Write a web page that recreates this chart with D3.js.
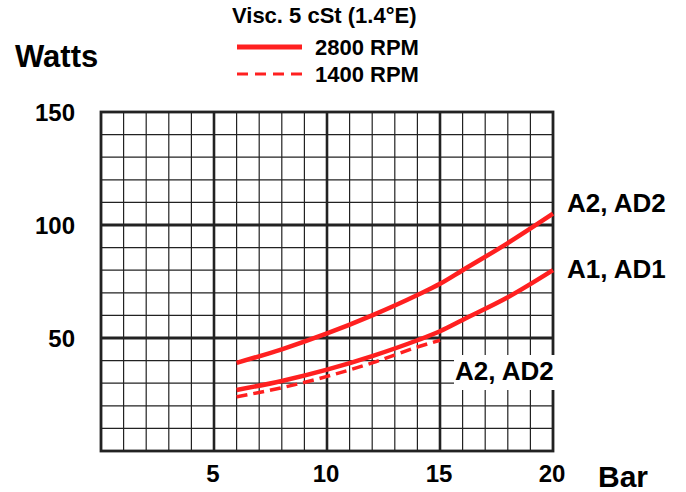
<!DOCTYPE html>
<html>
<head>
<meta charset="utf-8">
<script src="https://cdn.jsdelivr.net/npm/d3@7"></script>
<style>
  body { margin: 0; background: #fff; }
  text { font-family: "Liberation Sans", Arial, sans-serif; font-weight: bold; fill: #000; }
</style>
</head>
<body>
<svg id="chart" width="686" height="492"></svg>
<script>
// data (bar -> watts)
const pressure2800A2 = [6, 8, 10, 12, 14, 15, 16, 18, 20];
const watts2800A2 = [39, 45, 52, 60, 69, 74, 80, 92, 105];
const pressure2800A1 = [6, 8, 10, 12, 14, 15, 16, 18, 20];
const watts2800A1 = [27, 31, 36, 42, 49, 53, 58, 68, 80];
const pressure1400A2 = [6, 8, 10, 12, 14, 15];
const watts1400A2 = [24, 28, 33, 39, 46, 49];
const xTicks = [5, 10, 15, 20];
const yTicks = [50, 100, 150];

const svg = d3.select("#chart");
const red = "#ff2020";

const x = d3.scaleLinear().domain([0, 20]).range([101, 553]);
const y = d3.scaleLinear().domain([0, 150]).range([451, 112]);

const grid = svg.append("g");

// minor grid, every bar and every 10 W
grid.selectAll(".vminor")
  .data(d3.range(1, 20))
  .enter()
  .append("line")
  .attr("x1", (d) => x(d)).attr("x2", (d) => x(d))
  .attr("y1", y(0)).attr("y2", y(150))
  .attr("stroke", "#222")
  .attr("stroke-width", (d) => (d % 5 === 0 ? 2.6 : 1.2));

grid.selectAll(".hminor")
  .data(d3.range(10, 150, 10))
  .enter()
  .append("line")
  .attr("x1", x(0)).attr("x2", x(20))
  .attr("y1", (d) => y(d)).attr("y2", (d) => y(d))
  .attr("stroke", "#222")
  .attr("stroke-width", (d) => (d % 50 === 0 ? 2.8 : 1.2));

grid.append("rect")
  .attr("x", x(0)).attr("y", y(150))
  .attr("width", x(20) - x(0)).attr("height", y(0) - y(150))
  .attr("fill", "none")
  .attr("stroke", "#222")
  .attr("stroke-width", 2.8);

// curves
const line = d3.line()
  .x((d) => x(d[0]))
  .y((d) => y(d[1]))
  .curve(d3.curveMonotoneX);

svg.append("path")
  .datum(d3.zip(pressure2800A2, watts2800A2))
  .attr("d", line)
  .attr("fill", "none").attr("stroke", red).attr("stroke-width", 4.5);

svg.append("path")
  .datum(d3.zip(pressure2800A1, watts2800A1))
  .attr("d", line)
  .attr("fill", "none").attr("stroke", red).attr("stroke-width", 4.5);

svg.append("path")
  .datum(d3.zip(pressure1400A2, watts1400A2))
  .attr("d", line)
  .attr("fill", "none").attr("stroke", red).attr("stroke-width", 3.5)
  .attr("stroke-dasharray", "11,6");

// label with white box inside the plot
svg.append("rect")
  .attr("x", 454).attr("y", 355)
  .attr("width", 101).attr("height", 35)
  .attr("fill", "#fff");
svg.append("text")
  .attr("x", 455).attr("y", 380)
  .attr("font-size", 26)
  .text("A2, AD2");

// right labels
svg.append("text").attr("x", 567).attr("y", 212).attr("font-size", 26).text("A2, AD2");
svg.append("text").attr("x", 567).attr("y", 278).attr("font-size", 26).text("A1, AD1");

// axis tick labels
svg.selectAll(".ylab")
  .data(yTicks)
  .enter()
  .append("text")
  .attr("x", 75)
  .attr("y", (d) => y(d) + 9)
  .attr("text-anchor", "end")
  .attr("font-size", 24)
  .text((d) => d);

svg.selectAll(".xlab")
  .data(xTicks)
  .enter()
  .append("text")
  .attr("x", (d) => x(d) - 1)
  .attr("y", 482)
  .attr("text-anchor", "middle")
  .attr("font-size", 24)
  .text((d) => d);

svg.append("text").attr("x", 15).attr("y", 67).attr("font-size", 31).text("Watts");
svg.append("text").attr("x", 598).attr("y", 487).attr("font-size", 30).text("Bar");

// legend
svg.append("text").attr("x", 232).attr("y", 23).attr("font-size", 22).text("Visc. 5 cSt (1.4°E)");
svg.append("line")
  .attr("x1", 237).attr("x2", 302).attr("y1", 47).attr("y2", 47)
  .attr("stroke", red).attr("stroke-width", 5);
svg.append("text").attr("x", 315).attr("y", 55).attr("font-size", 22).text("2800 RPM");
svg.append("line")
  .attr("x1", 237).attr("x2", 302).attr("y1", 74).attr("y2", 74)
  .attr("stroke", red).attr("stroke-width", 3)
  .attr("stroke-dasharray", "11,7");
svg.append("text").attr("x", 315).attr("y", 82).attr("font-size", 22).text("1400 RPM");
</script>
</body>
</html>
